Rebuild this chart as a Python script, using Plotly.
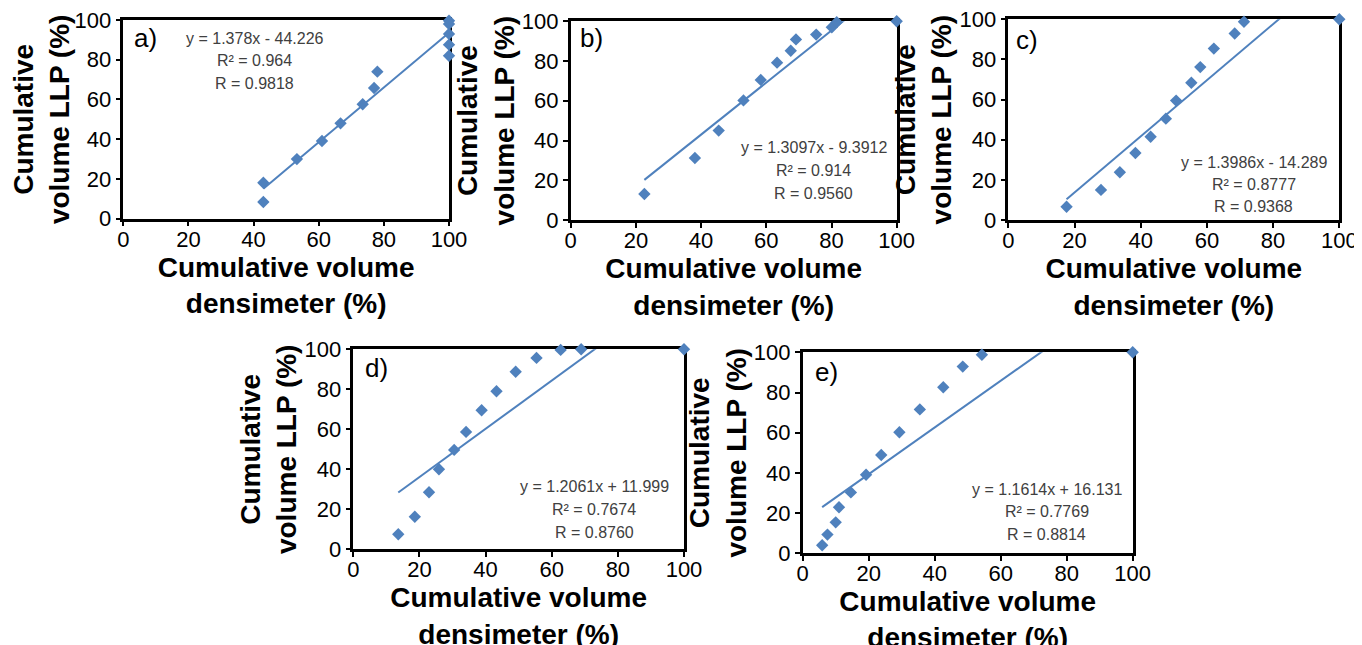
import plotly.graph_objects as go

# ---------------- data ----------------
panel_labels = ["a)", "b)", "c)", "d)", "e)"]

a_x = [43.0, 43.0, 53.3, 61.0, 66.7, 73.5, 77.0, 78.0, 100, 100, 100, 100, 100]
a_y = [18.1, 8.4, 30.0, 39.1, 48.0, 57.6, 65.8, 74.0, 99.6, 98.0, 93.0, 87.6, 82.0]

b_x = [22.6, 38.1, 45.4, 53.0, 58.3, 63.3, 67.5, 69.1, 75.3, 80.1, 81.6, 100]
b_y = [13.1, 31.2, 45.0, 60.2, 70.5, 79.2, 85.2, 90.9, 93.3, 97.0, 99.5, 100]

c_x = [17.6, 28.0, 33.7, 38.4, 43.0, 47.6, 50.7, 55.3, 58.0, 62.1, 68.4, 71.2, 100]
c_y = [6.6, 15.0, 23.8, 33.4, 41.5, 50.5, 59.5, 68.4, 76.2, 85.4, 92.9, 98.8, 100]

d_x = [13.6, 18.6, 22.9, 25.9, 30.5, 34.1, 38.8, 43.3, 49.1, 55.4, 62.7, 68.9, 100]
d_y = [7.5, 16.3, 28.5, 40.0, 49.7, 58.7, 69.5, 79.0, 88.8, 95.7, 99.7, 100, 100]

e_x = [5.9, 7.5, 10.0, 11.0, 14.6, 19.2, 23.8, 29.3, 35.5, 42.6, 48.5, 54.3, 100]
e_y = [4.0, 9.3, 15.4, 22.9, 30.3, 39.1, 48.9, 60.2, 71.6, 82.6, 92.9, 98.8, 100]

slopes = [1.378, 1.3097, 1.3986, 1.2061, 1.1614]
intercepts = [-44.226, -9.3912, -14.289, 11.999, 16.131]
eq_texts = ["y = 1.378x - 44.226", "y = 1.3097x - 9.3912", "y = 1.3986x - 14.289",
            "y = 1.2061x + 11.999", "y = 1.1614x + 16.131"]
r2_texts = ["R² = 0.964", "R² = 0.914", "R² = 0.8777", "R² = 0.7674", "R² = 0.7769"]
r_texts = ["R = 0.9818", "R = 0.9560", "R = 0.9368", "R = 0.8760", "R = 0.8814"]

tick_vals = [0, 20, 40, 60, 80, 100]
x_title = "Cumulative volume<br>densimeter (%)"
y_title = "Cumulative<br>volume LLP (%)"

# ---------------- layout (positions/styles) ----------------
W, H = 1362, 645
OFF = 8  # page body margin in the browser
# pixel boxes of plot areas on screen: (left, right, top, bottom)
boxes = [(123.3, 449.0, 20.0, 218.7),
         (570.7, 896.7, 21.3, 220.0),
         (1008.3, 1339.3, 19.3, 220.0),
         (353.3, 684.0, 349.3, 549.3),
         (802.7, 1132.7, 352.3, 553.3)]
# annotation anchor (data coords) for the equation block, and label pos
eq_pos = [(40.4, 90.9), (74.6, 36.4), (74.2, 28.7), (72.8, 31.3), (73.9, 31.8)]
eq_gap = [11.4, 11.6, 11.0, 11.5, 11.2]
lab_pos = [(6.7, 91), (6.4, 91.4), (5.6, 89.7), (7.1, 90.5), (7.3, 90.3)]

blue = "#4F81BD"
font_main = "Arial, Liberation Sans, sans-serif"

fig = go.Figure()
xs = [a_x, b_x, c_x, d_x, e_x]
ys = [a_y, b_y, c_y, d_y, e_y]

annotations = []
for i in range(5):
    n = "" if i == 0 else str(i + 1)
    xa, ya = "x" + n, "y" + n
    x, y = xs[i], ys[i]
    # trendline from regression equation over the data range
    xmin, xmax = min(x), max(x)
    fig.add_trace(go.Scatter(
        x=[xmin, xmax], y=[slopes[i] * xmin + intercepts[i], slopes[i] * xmax + intercepts[i]],
        mode="lines", line=dict(color=blue, width=2), xaxis=xa, yaxis=ya,
        showlegend=False, hoverinfo="skip"))
    fig.add_trace(go.Scatter(
        x=x, y=y, mode="markers",
        marker=dict(symbol="diamond", size=9.5, color=blue),
        cliponaxis=False, xaxis=xa, yaxis=ya, showlegend=False))

    l, r, t, b = boxes[i]
    l, r, t, b = l - OFF, r - OFF, t - OFF, b - OFF
    fig.layout["xaxis" + n] = dict(
        domain=[l / W, r / W], anchor=ya, range=[0, 100], tickvals=tick_vals,
        showgrid=False, zeroline=False, showline=True, mirror=True, automargin=False,
        linecolor="black", linewidth=2.5, ticks="outside", ticklen=5,
        tickwidth=1.5, tickcolor="black", layer="below traces",
        ticklabelstandoff=-6, ticklabeloverflow="allow",
        tickfont=dict(family=font_main, size=22, color="black"),
        title=dict(text=x_title, standoff=2,
                   font=dict(family=font_main, size=28, color="black", weight="bold")))
    fig.layout["yaxis" + n] = dict(
        domain=[1 - b / H, 1 - t / H], anchor=xa, range=[0, 100], tickvals=tick_vals,
        showgrid=False, zeroline=False, showline=True, mirror=True, automargin=False,
        linecolor="black", linewidth=2.5, ticks="outside", ticklen=5,
        tickwidth=1.5, tickcolor="black", layer="below traces",
        ticklabeloverflow="allow",
        tickfont=dict(family=font_main, size=22, color="black"),
        title=dict(text=y_title, standoff=0,
                   font=dict(family=font_main, size=28, color="black", weight="bold")))

    ex, ey = eq_pos[i]
    for k, txt in enumerate([eq_texts[i], r2_texts[i], r_texts[i]]):
        annotations.append(dict(
            x=ex, y=ey - k * eq_gap[i], xref=xa, yref=ya, text=txt, showarrow=False,
            xanchor="center", yanchor="middle",
            font=dict(family=font_main, size=16, color="#404040")))
    lx, ly = lab_pos[i]
    annotations.append(dict(
        x=lx, y=ly, xref=xa, yref=ya, text=panel_labels[i], showarrow=False,
        xanchor="center", yanchor="middle",
        font=dict(family=font_main, size=26, color="black")))

fig.update_layout(
    width=W, height=H, margin=dict(l=0, r=0, t=0, b=0, autoexpand=False),
    paper_bgcolor="white", plot_bgcolor="white",
    annotations=annotations, showlegend=False)

fig.write_html("out.html")
